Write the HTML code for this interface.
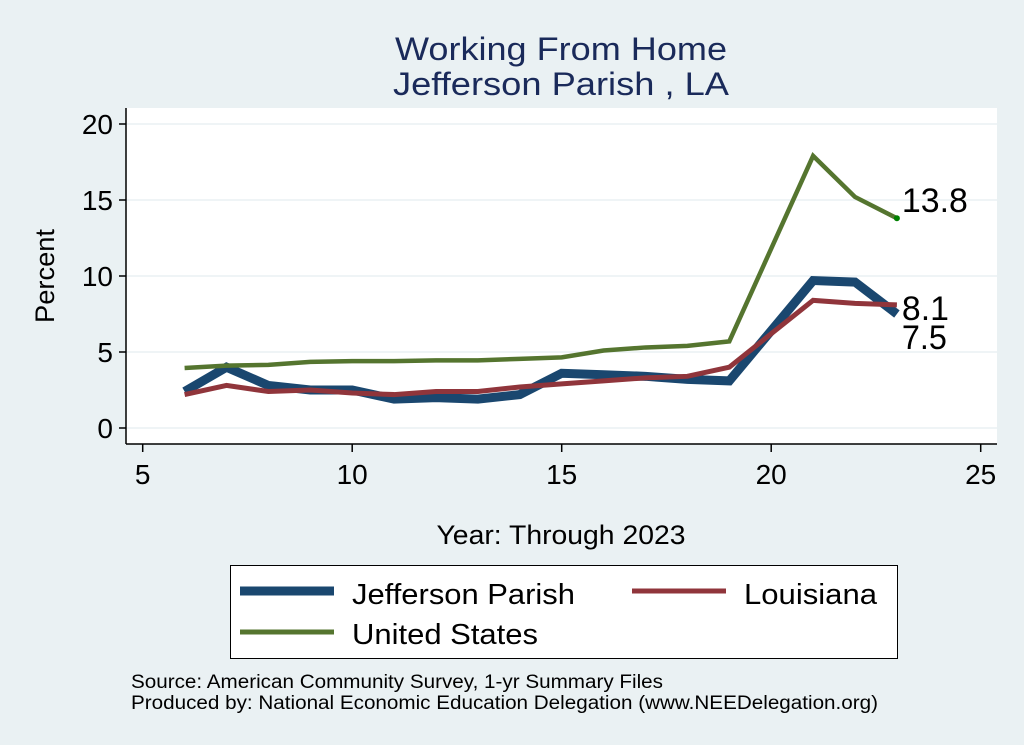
<!DOCTYPE html>
<html><head><meta charset="utf-8"><style>
body{margin:0;width:1024px;height:745px;background:#eaf1f3;overflow:hidden}
svg{display:block;font-family:"Liberation Sans",Arial,sans-serif}
</style></head><body>
<svg id="chart" width="1024" height="745">
<rect x="0" y="0" width="1024" height="745" fill="#eaf1f3"/>
<text x="561" y="60" font-size="32" fill="#1a2a5a" text-anchor="middle" textLength="332" lengthAdjust="spacingAndGlyphs">Working From Home</text>
<text x="561" y="95" font-size="32" fill="#1a2a5a" text-anchor="middle" textLength="336" lengthAdjust="spacingAndGlyphs">Jefferson Parish , LA</text>
<rect x="126" y="108" width="871" height="336" fill="#fff"/>
<g id="grid"></g><g id="axes"></g><g id="series"></g><g id="labels"></g>
<text x="54" y="276" font-size="27" text-anchor="middle" transform="rotate(-90 54 276)" textLength="94" lengthAdjust="spacingAndGlyphs">Percent</text>
<text x="561" y="544" font-size="27" text-anchor="middle" textLength="249" lengthAdjust="spacingAndGlyphs">Year: Through 2023</text>
<g>
<rect x="230.5" y="565.5" width="667" height="93" fill="#fff" stroke="#000"/>
<line x1="240" y1="591" x2="334" y2="591" stroke="#1a476f" stroke-width="9"/>
<text x="352" y="604" font-size="29" textLength="223" lengthAdjust="spacingAndGlyphs">Jefferson Parish</text>
<line x1="632" y1="591" x2="726" y2="591" stroke="#90353b" stroke-width="5"/>
<text x="744" y="604" font-size="29" textLength="133" lengthAdjust="spacingAndGlyphs">Louisiana</text>
<line x1="240" y1="632" x2="334" y2="632" stroke="#55752f" stroke-width="5"/>
<text x="352" y="644" font-size="29" textLength="186" lengthAdjust="spacingAndGlyphs">United States</text>
</g>
<text x="131" y="688" font-size="19" textLength="532" lengthAdjust="spacingAndGlyphs">Source: American Community Survey, 1-yr Summary Files</text>
<text x="131" y="709" font-size="19" textLength="747" lengthAdjust="spacingAndGlyphs">Produced by: National Economic Education Delegation (www.NEEDelegation.org)</text>
</svg>
<script>
const years=[6,7,8,9,10,11,12,13,14,15,16,17,18,19,21,22,23];
const jeffersonVals=[2.4,4.0,2.8,2.5,2.5,1.9,2.0,1.9,2.2,3.6,3.5,3.4,3.2,3.1,9.7,9.6,7.5];
const louisianaVals=[2.2,2.8,2.4,2.5,2.3,2.2,2.4,2.4,2.7,2.9,3.1,3.3,3.4,4.0,8.4,8.2,8.1];
const usVals=[3.95,4.1,4.15,4.35,4.4,4.4,4.45,4.45,4.55,4.65,5.1,5.3,5.4,5.7,17.9,15.2,13.8];
const xTicks=[5,10,15,20,25];
const yTicks=[0,5,10,15,20];
const NS="http://www.w3.org/2000/svg";
function X(v){return 142.7+(v-5)*41.9;}
function Y(v){return 428-v*15.2;}
function mk(tag,attrs,parent){const e=document.createElementNS(NS,tag);for(const k in attrs)e.setAttribute(k,attrs[k]);document.getElementById(parent).appendChild(e);return e;}
yTicks.forEach(t=>{
 const g=mk('line',{x1:126,x2:997,y1:Y(t),y2:Y(t),stroke:'#eaf1f3','stroke-width':1.5},'grid');
 
 
 const tk=mk('line',{x1:119,x2:126,y1:Y(t),y2:Y(t),stroke:'#000','stroke-width':1.5},'axes');
 
 
 const lb=mk('text',{x:113,y:Y(t)+10,'font-size':28,'text-anchor':'end'},'axes');lb.textContent=t;
 
 
});
xTicks.forEach(t=>{
 const tk=mk('line',{x1:X(t),x2:X(t),y1:444,y2:452,stroke:'#000','stroke-width':1.5},'axes');
 
 
 const lb=mk('text',{x:X(t),y:484,'font-size':28,'text-anchor':'middle'},'axes');lb.textContent=t;
 
 
});
const ya=mk('line',{x1:126,x2:126,y1:108,y2:444,stroke:'#000','stroke-width':1.5},'axes');


const xa=mk('line',{x1:126,x2:997,y1:444,y2:444,stroke:'#000','stroke-width':1.5},'axes');


function line(vals,color,w,name){
 const p=mk('polyline',{points:years.map((y,i)=>X(y)+','+Y(vals[i])).join(' '),fill:'none',stroke:color,'stroke-width':w,'stroke-linejoin':'miter'},'series');
 
 
}
line(jeffersonVals,'#1a476f',9,'jefferson-line');
line(usVals,'#55752f',4.5,'us-line');
line(louisianaVals,'#90353b',5,'louisiana-line');
const n=years.length-1;
const dot=mk('circle',{cx:X(years[n]),cy:Y(usVals[n]),r:3,fill:'#008000'},'labels');


[[usVals[n],Y(usVals[n])-6,'us-end-label',66],[louisianaVals[n],Y(louisianaVals[n])+15,'louisiana-end-label',47],[jeffersonVals[n],Y(jeffersonVals[n])+35,'jefferson-end-label',45]].forEach(a=>{
 const t=mk('text',{x:X(years[n])+5,y:a[1],'font-size':34,textLength:a[3],lengthAdjust:'spacingAndGlyphs'},'labels');t.textContent=a[0].toFixed(1);
 
 
});
</script>
</body></html>
